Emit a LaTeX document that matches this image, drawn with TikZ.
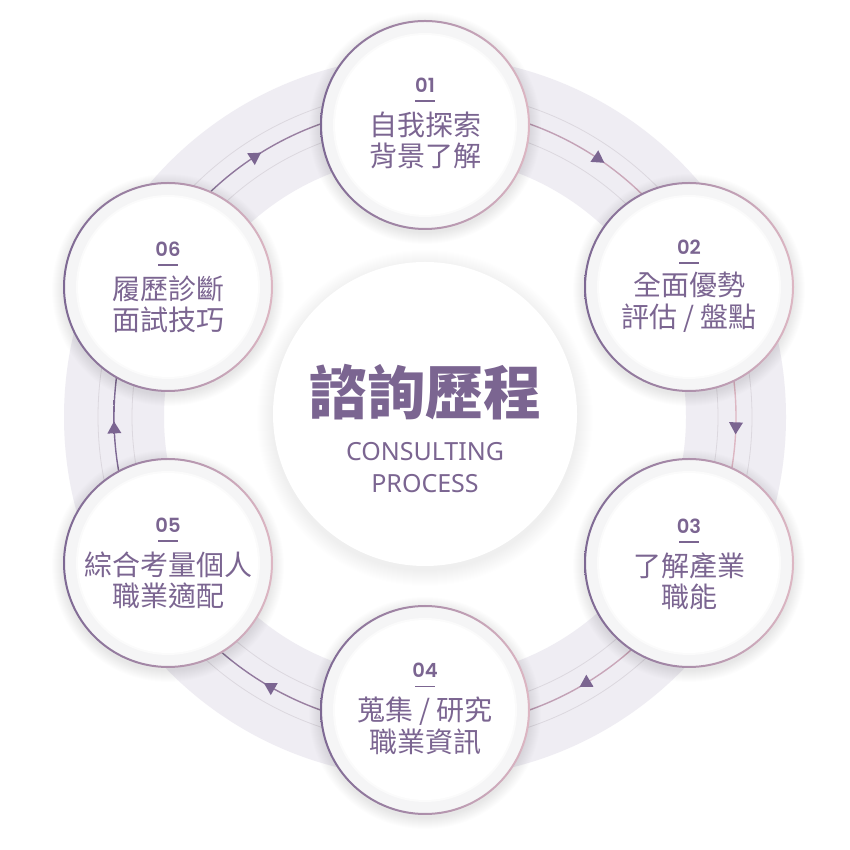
\documentclass[tikz,border=0pt]{standalone}
\usepackage{fontspec}
\newfontfamily\cjk{Noto Sans CJK TC}
\newfontfamily\latinf{Noto Sans}
\newfontfamily\numf{Poppins}[UprightFont=* SemiBold]
\usetikzlibrary{calc}
\definecolor{txt}{HTML}{7B6591}
\definecolor{band}{HTML}{EFEDF3}
\definecolor{gline}{HTML}{DCD8DF}
\definecolor{bL}{HTML}{7D6893}
\definecolor{bR}{HTML}{DDB7C3}
\definecolor{ringgray}{HTML}{F5F5F6}
\begin{document}
\begin{tikzpicture}[x=1pt,y=1pt,
  circ/.style={circle, minimum size=208pt, inner sep=0pt, fill=ringgray},
  numtxt/.style={font=\numf\fontsize{19.5}{19.5}\selectfont, text=txt, inner sep=0pt},
  bartxt/.style={minimum width=20pt, minimum height=1.3pt, inner sep=0pt, fill=txt},
  steptxt/.style={font=\cjk\fontsize{28}{31.5}\selectfont, text=txt, align=center, inner sep=0pt},
  entxt/.style={font=\latinf\fontsize{25}{25}\selectfont, text=txt, inner sep=0pt},
]
\useasboundingbox (0,0) rectangle (850,850);
\fill[white] (0,0) rectangle (850,850);
\coordinate (C) at (425,433);
% band
\fill[band, even odd rule] (C) circle (361) (C) circle (261);
\draw[gline, line width=0.8pt] (C) circle (293) (C) circle (327);
\shade[left color=bL, right color=bR, even odd rule] (C) circle (311.7) (C) circle (310.3);
% arrowheads
\foreach \a in {56,-2,-59,-120,182,123} {
  \coordinate (ah\a) at ($(C)+(\a:311)$);
  \begin{scope}[shift={(ah\a)}, rotate=\a-90]
    \fill[txt] (6.5,0) -- (-5.5,7) -- (-5.5,-7) -- cycle;
  \end{scope}
}
% centre
\foreach \k in {1,...,16} \fill[black, opacity=0.005] (425,432) circle (152+\k);
\node[circle, minimum size=304pt, fill=white, inner sep=0pt] (ctr) at (425,436) {};
\node[font=\cjk\bfseries\fontsize{58}{60}\selectfont, text=txt, inner sep=0pt] (title) at (425,457.5) {諮詢歷程};
\node[entxt] (en1) at (425,398.5) {CONSULTING};
\node[entxt] (en2) at (425,366) {PROCESS};
% steps
\foreach \n/\x/\y/\ly/\num/\lab in {
 s1/425/725/725/01/{自我探索\\背景了解},
 s2/689/563/563/02/{全面優勢\\評估 / 盤點},
 s3/689/287/284/03/{了解產業\\職能},
 s4/425/140/139.5/04/{蒐集 / 研究\\職業資訊},
 s5/168/287/285/05/{綜合考量個人\\職業適配},
 s6/168/563/561/06/{履歷診斷\\面試技巧}} {
  \foreach \k in {1,...,12} \fill[black, opacity=0.006] (\x,\y-3) circle (104+\k);
  \node[circ] (\n) at (\x,\y) {};
  \fill[white!60!ringgray] (\n.center) circle (92);
  \fill[white] (\n.center) circle (90);
  \shade[left color=bL, right color=bR, even odd rule] (\n.center) circle (105) (\n.center) circle (103);
  \node[numtxt] (\n-num) at (\x,\ly+40) {\num};
  \node[bartxt] (\n-bar) at (\x,\ly+24) {};
  \node[steptxt] (\n-txt) at (\x,\ly-15.5) {\lab};
}
\end{tikzpicture}
\end{document}
